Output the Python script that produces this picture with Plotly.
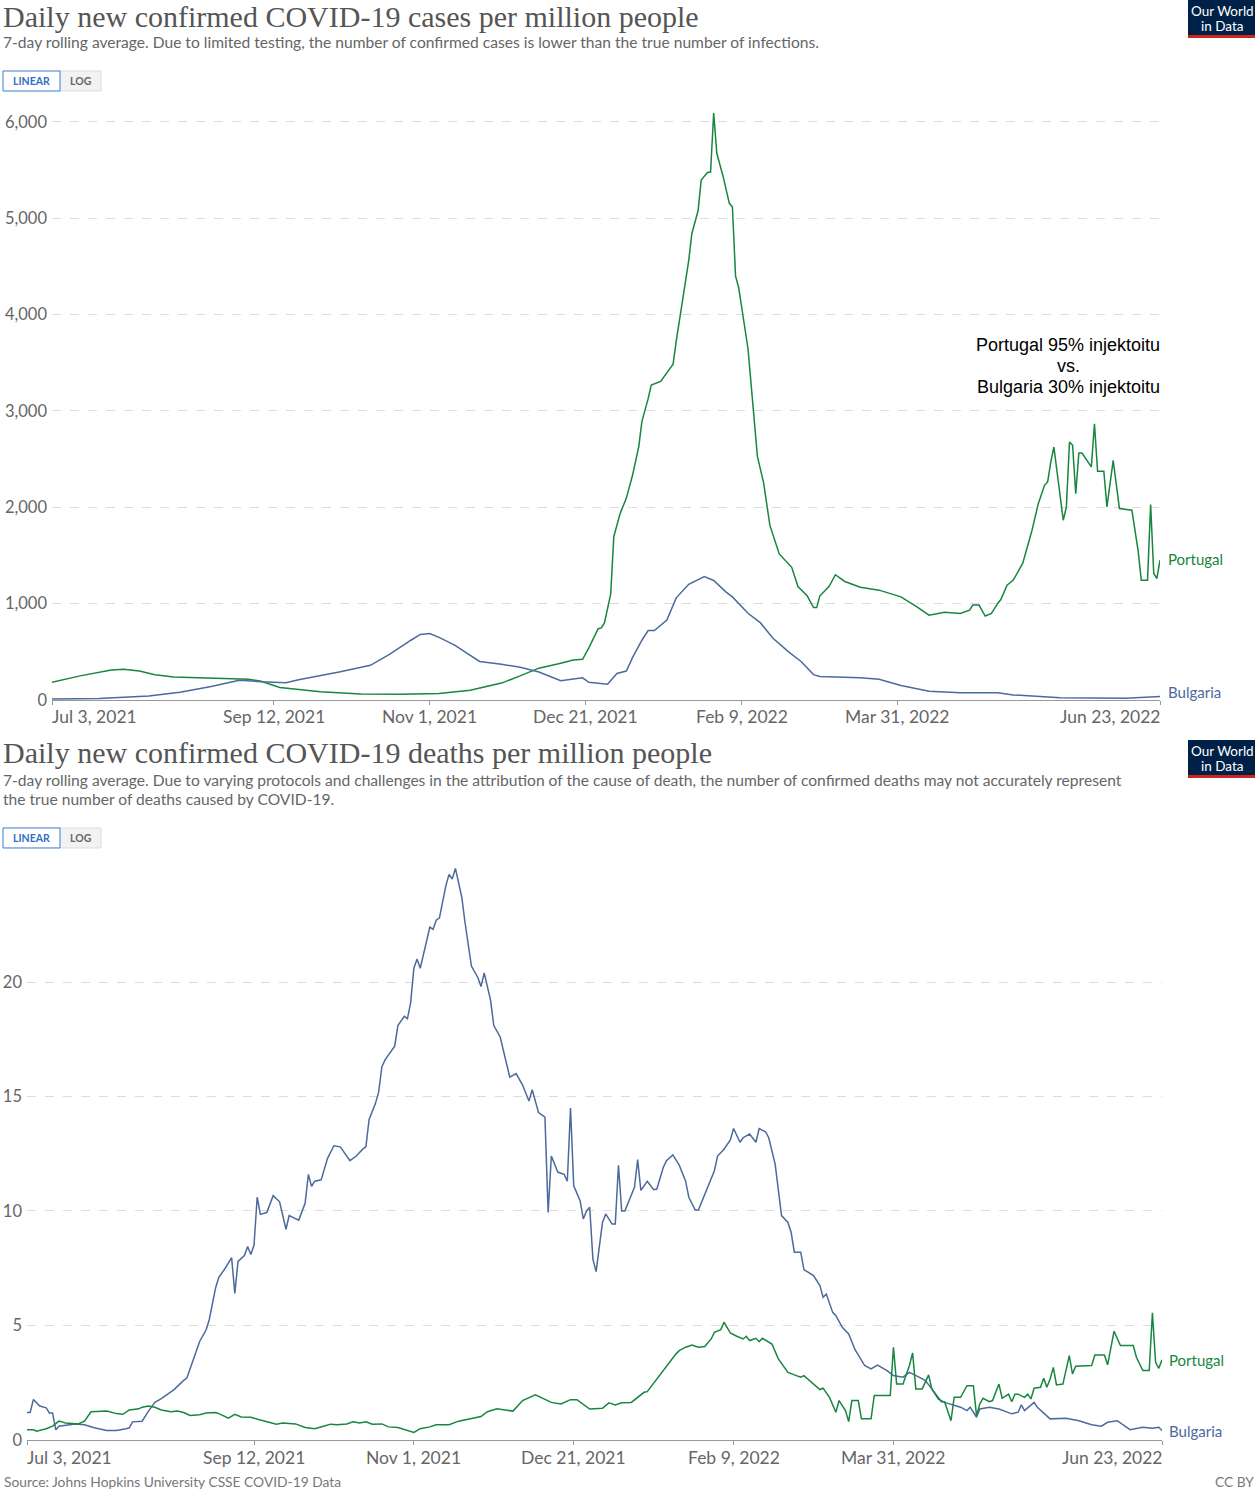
import pandas as pd
import plotly.graph_objects as go

START = pd.Timestamp("2021-07-03")

# ---------------- DATA (day offset from Jul 3, 2021, value) ----------------
cases_pt_days = [0, 9, 19, 23, 28, 33, 39, 47, 57, 63, 67, 73, 86, 99, 112, 124, 134, 144, 150, 156,
                 163, 167, 170, 172, 175, 176, 177, 179, 180, 182, 184, 186, 188, 189, 191, 192, 195, 197,
                 199, 200, 202, 204, 205, 207, 208, 210, 211, 212, 213, 215, 217, 218, 219, 220, 223, 225,
                 226, 228, 230, 233, 237, 239, 242, 244, 245, 246, 249, 251, 254, 259, 265, 272, 277, 281,
                 286, 291, 294, 295, 297, 299, 301, 303, 304, 306, 308, 311, 314, 316, 318, 319, 320, 321,
                 324, 325, 326, 327, 328, 329, 330, 333, 334, 335, 337, 338, 340, 342, 346, 348, 349, 351,
                 352, 353, 354, 355]
cases_pt_vals = [185, 250, 310, 320, 300, 262, 238, 230, 225, 215, 195, 130, 85, 62, 60, 68, 100, 175, 250, 330,
                 382, 414, 422, 541, 740, 748, 800, 1098, 1695, 1934, 2093, 2332, 2631, 2889, 3128, 3268, 3307, 3399,
                 3486, 3725, 4123, 4561, 4840, 5078, 5397, 5476, 5480, 6093, 5675, 5437, 5158, 5118, 4402, 4282, 3646, 2889,
                 2531, 2253, 1815, 1516, 1377, 1178, 1079, 959, 959, 1079, 1180, 1300, 1230, 1170, 1140, 1070, 970, 880,
                 910, 898, 933, 985, 985, 871, 898, 1002, 1043, 1192, 1244, 1417, 1762, 2038, 2228, 2263, 2470, 2626,
                 1866, 2004, 2678, 2643, 2142, 2564, 2564, 2419, 2868, 2374, 2374, 2004, 2488, 1987, 1969, 1548, 1244, 1244,
                 2028, 1313, 1261, 1451]

cases_bg_days = [0, 15, 31, 41, 51, 60, 67, 75, 79, 92, 102, 108, 115, 118, 121, 124, 129, 134, 137, 144,
                 150, 156, 161, 163, 170, 172, 178, 181, 184, 186, 189, 191, 193, 197, 200, 204, 209, 212,
                 216, 218, 223, 227, 231, 236, 240, 244, 246, 253, 259, 265, 272, 281, 291, 303, 308, 323,
                 344, 355]
cases_bg_vals = [10, 15, 40, 80, 140, 205, 190, 180, 210, 290, 360, 470, 620, 680, 690, 650, 570, 460, 400, 370,
                 340, 290, 230, 200, 230, 183, 163, 275, 300, 440, 620, 720, 720, 830, 1060, 1200, 1280, 1240,
                 1120, 1070, 900, 800, 640, 500, 400, 263, 243, 240, 230, 215, 150, 90, 75, 76, 52, 24,
                 17, 35]

deaths_bg_days = [0, 1, 2, 3, 4, 6, 7, 8, 9, 10, 15, 18, 21, 25, 28, 31, 32, 33, 36, 38, 40, 42, 46, 49, 50,
                  52, 54, 56, 57, 59, 60, 62, 64, 65, 66, 68, 69, 70, 71, 72, 73, 75, 76, 77, 79, 81, 82, 85,
                  87, 88, 89, 90, 92, 94, 96, 98, 101, 103, 105, 106, 107, 109, 110, 111, 112, 113, 115, 116,
                  118, 119, 120, 121, 122, 123, 125, 126, 127, 128, 129, 131, 132, 133, 134, 136, 137, 139,
                  141, 142, 143, 145, 146, 148, 151, 153, 155, 157, 158, 160, 162, 163, 164, 166, 168, 169,
                  170, 171, 173, 174, 175, 176, 177, 178, 180, 181, 183, 184, 185, 186, 187, 189, 190, 191,
                  192, 194, 196, 197, 199, 200, 202, 204, 206, 207, 209, 210, 212, 215, 216, 218, 220, 221,
                  223, 224, 226, 228, 229, 231, 232, 234, 236, 238, 239, 240, 242, 243, 246, 248, 249, 250,
                  252, 253, 255, 257, 259, 262, 264, 266, 269, 271, 274, 276, 279, 281, 283, 285, 287, 290,
                  292, 294, 295, 297, 298, 301, 304, 308, 310, 311, 312, 315, 316, 320, 325, 329, 333, 336,
                  338, 341, 343, 345, 349, 352, 354, 355]
deaths_bg_vals = [1.2, 1.2, 1.77, 1.64, 1.48, 1.4, 1.18, 1.18, 0.44, 0.6, 0.7, 0.66, 0.53, 0.41, 0.41, 0.49, 0.53,
                  0.79, 0.82, 1.26, 1.64, 1.8, 2.2, 2.6, 2.7, 3.5, 4.3, 4.8, 5.25, 6.65, 7.1, 7.5, 7.96, 6.4,
                  7.8, 8.05, 8.45, 8.1, 8.5, 10.6, 9.85, 9.93, 10.26, 10.67, 10.4, 9.2, 9.8, 9.6, 10.35, 11.6,
                  11.08, 11.3, 11.36, 12.3, 12.85, 12.8, 12.2, 12.4, 12.7, 12.8, 14.0, 14.7, 15.2, 16.3, 16.6,
                  16.8, 17.2, 18.1, 18.5, 18.4, 19.1, 20.6, 21.0, 20.6, 21.9, 22.4, 22.3, 22.7, 22.8, 24.2,
                  24.7, 24.5, 24.96, 23.7, 22.6, 20.7, 20.2, 19.8, 20.4, 19.2, 18.1, 17.6, 15.85, 16.0, 15.5,
                  14.8, 15.3, 14.3, 14.1, 9.93, 12.4, 11.7, 11.6, 11.3, 14.5, 11.1, 10.45, 9.65, 10.0, 10.16,
                  7.9, 7.35, 9.5, 9.87, 9.43, 9.43, 12.0, 10.0, 10.0, 10.74, 11.03, 12.24, 10.9, 11.3, 10.93,
                  10.96, 11.9, 12.2, 12.45, 12.0, 11.3, 10.6, 10.04, 10.04, 10.74, 11.76, 12.4, 12.7, 13.1,
                  13.6, 13.0, 13.2, 13.36, 13.0, 13.6, 13.46, 13.2, 12.05, 9.8, 9.5, 9.07, 8.2, 8.2, 7.44,
                  7.18, 6.74, 6.23, 6.37, 5.57, 5.43, 4.92, 4.63, 3.94, 3.25, 3.1, 3.27, 3.03, 2.81, 2.74,
                  2.95, 2.74, 2.59, 2.23, 1.79, 1.64, 1.5, 1.43, 1.28, 1.43, 0.99, 1.35, 1.43, 1.35, 1.14,
                  1.21, 1.53, 1.28, 1.64, 1.43, 0.92, 0.95, 0.84, 0.66, 0.6, 0.77, 0.84, 0.66, 0.45, 0.55,
                  0.51, 0.55, 0.41]

deaths_pt_days = [0, 2, 3, 6, 8, 10, 11, 12, 16, 18, 20, 22, 25, 28, 30, 32, 35, 36, 38, 40, 42, 45, 47, 49,
                  51, 54, 56, 59, 60, 63, 65, 67, 70, 73, 75, 78, 80, 84, 87, 90, 93, 95, 97, 100, 102, 104,
                  106, 108, 111, 113, 116, 118, 121, 123, 126, 128, 132, 135, 139, 142, 144, 147, 152, 155,
                  159, 162, 164, 167, 168, 170, 172, 174, 176, 180, 182, 184, 186, 189, 191, 193, 194, 197,
                  200, 203, 204, 206, 208, 210, 212, 214, 215, 217, 218, 220, 222, 224, 225, 226, 228, 229,
                  230, 232, 233, 235, 238, 240, 242, 243, 246, 248, 249, 251, 253, 254, 256, 257, 258, 260,
                  261, 264, 265, 270, 271, 272, 274, 276, 277, 278, 280, 282, 283, 286, 287, 289, 290, 292,
                  294, 296, 297, 298, 299, 301, 302, 304, 305, 307, 308, 309, 310, 312, 313, 314, 315, 317,
                  318, 319, 320, 321, 322, 324, 326, 327, 328, 333, 334, 337, 338, 340, 342, 346, 347, 349,
                  351, 352, 353, 354, 355]
deaths_pt_vals = [0.44, 0.44, 0.38, 0.49, 0.6, 0.82, 0.79, 0.74, 0.7, 0.82, 1.23, 1.23, 1.26, 1.15, 1.12, 1.31,
                  1.36, 1.43, 1.48, 1.43, 1.31, 1.23, 1.26, 1.2, 1.07, 1.1, 1.18, 1.2, 1.15, 0.95, 1.12, 1.0,
                  0.99, 0.87, 0.79, 0.69, 0.74, 0.7, 0.54, 0.49, 0.61, 0.69, 0.66, 0.7, 0.79, 0.74, 0.79, 0.69,
                  0.7, 0.57, 0.54, 0.46, 0.33, 0.49, 0.57, 0.66, 0.66, 0.82, 0.94, 1.02, 1.23, 1.36, 1.26, 1.72,
                  1.97, 1.76, 1.64, 1.57, 1.64, 1.76, 1.76, 1.57, 1.35, 1.38, 1.62, 1.53, 1.62, 1.64, 1.86, 2.08,
                  2.11, 2.66, 3.25, 3.76, 3.9, 4.05, 4.15, 4.05, 4.08, 4.41, 4.7, 4.82, 5.14, 4.67, 4.53, 4.41,
                  4.53, 4.34, 4.44, 4.29, 4.44, 4.26, 4.19, 3.54, 2.95, 2.84, 2.74, 2.81, 2.45, 2.2, 2.26, 1.86,
                  1.21, 1.72, 1.28, 0.8, 1.72, 1.72, 0.92, 0.92, 1.94, 1.94, 4.05, 2.44, 2.44, 3.25, 3.8, 2.23,
                  2.23, 2.84, 2.23, 1.67, 1.67, 0.84, 1.86, 1.86, 2.37, 2.37, 1.06, 1.57, 1.82, 1.67, 1.72, 2.44,
                  1.82, 2.0, 1.67, 2.0, 2.0, 1.86, 2.0, 1.79, 2.26, 2.3, 2.69, 2.3, 2.66, 3.17, 2.4, 2.44, 3.68,
                  2.88, 3.22, 3.25, 3.71, 3.71, 3.28, 4.75, 4.12, 4.12, 3.61, 3.03, 3.03, 5.55, 3.39, 3.13, 3.5]

tick_dates = ["2021-07-03", "2021-09-12", "2021-11-01", "2021-12-21", "2022-02-09", "2022-03-31", "2022-06-23"]
tick_labels = ["Jul 3, 2021", "Sep 12, 2021", "Nov 1, 2021", "Dec 21, 2021", "Feb 9, 2022", "Mar 31, 2022", "Jun 23, 2022"]
cases_yticks = [0, 1000, 2000, 3000, 4000, 5000, 6000]
deaths_yticks = [0, 5, 10, 15, 20]
note_lines = ["Portugal 95% injektoitu", "vs.", "Bulgaria 30% injektoitu"]

PT_COLOR = "#18863f"
BG_COLOR = "#4c6a9c"
W, H = 1255, 1500
VSCALE = 1510 / 1500  # the photographed page comes out slightly squeezed vertically


def to_dates(days):
    return [START + pd.Timedelta(days=int(d)) for d in days]


def px(x):
    return x / W


def py(y, raw=False):
    return 1 - (y if raw else y * VSCALE) / H


fig = go.Figure()
fig.add_trace(go.Scatter(x=to_dates(cases_pt_days), y=cases_pt_vals, mode="lines",
                         line=dict(color=PT_COLOR, width=1.5), xaxis="x", yaxis="y", name="Portugal"))
fig.add_trace(go.Scatter(x=to_dates(cases_bg_days), y=cases_bg_vals, mode="lines",
                         line=dict(color=BG_COLOR, width=1.5), xaxis="x", yaxis="y", name="Bulgaria"))
fig.add_trace(go.Scatter(x=to_dates(deaths_bg_days), y=deaths_bg_vals, mode="lines",
                         line=dict(color=BG_COLOR, width=1.5), xaxis="x2", yaxis="y2", name="Bulgaria"))
fig.add_trace(go.Scatter(x=to_dates(deaths_pt_days), y=deaths_pt_vals, mode="lines",
                         line=dict(color=PT_COLOR, width=1.5), xaxis="x2", yaxis="y2", name="Portugal"))

xrange = [tick_dates[0], tick_dates[-1]]
axis_common = dict(type="date", range=xrange, showgrid=False, showline=True, linecolor="#999",
                   linewidth=1, ticks="outside", ticklen=4, tickcolor="#999",
                   tickvals=tick_dates, showticklabels=False, zeroline=False, fixedrange=True)

fig.update_layout(
    width=W, height=H, margin=dict(l=0, r=0, t=0, b=0),
    paper_bgcolor="white", plot_bgcolor="white", showlegend=False,
    font=dict(family="Lato", color="#666"),
    xaxis=dict(domain=[px(52), px(1160)], anchor="y", **axis_common),
    yaxis=dict(domain=[py(700), py(102.7)], range=[0, 6200], anchor="x", tickvals=cases_yticks,
               tickformat=",", showgrid=True, gridcolor="#ddd", griddash="dash", zeroline=False,
               showline=False, ticks="", tickfont=dict(size=16.5, color="#666", family="Lato"),
               ticklabelstandoff=4, fixedrange=True),
    xaxis2=dict(domain=[px(27), px(1162)], anchor="y2", **axis_common),
    yaxis2=dict(domain=[py(1440), py(863)], range=[0, 25.2], anchor="x2", tickvals=deaths_yticks,
                showgrid=True, gridcolor="#ddd", griddash="dash", zeroline=False,
                showline=False, ticks="", tickfont=dict(size=16.5, color="#666", family="Lato"),
                ticklabelstandoff=4, fixedrange=True),
)

ann = []
shapes = []


def text(x, y, s, size, color="#666", family="Lato", xanchor="left", yanchor="middle", align="left", raw=False):
    ann.append(dict(x=px(x), y=py(y, raw), xref="paper", yref="paper", text=s,
                    showarrow=False, xanchor=xanchor, yanchor=yanchor, align=align,
                    font=dict(size=size, color=color, family=family)))


# Titles and subtitles
text(1, 17, "Daily new confirmed COVID-19 cases per million people", 30, "#555", "Liberation Serif", raw=True)
text(1, 42, "7-day rolling average. Due to limited testing, the number of confirmed cases is lower than the true number of infections.", 15.6)
text(1, 753, "Daily new confirmed COVID-19 deaths per million people", 30, "#555", "Liberation Serif")
text(1, 780, "7-day rolling average. Due to varying protocols and challenges in the attribution of the cause of death, the number of confirmed deaths may not accurately represent", 15.6)
text(1, 799, "the true number of deaths caused by COVID-19.", 15.6)


def buttons(yc):
    y0, y1 = yc - 10, yc + 10
    shapes.append(dict(type="rect", xref="paper", yref="paper", x0=px(58), x1=px(101), y0=py(y1), y1=py(y0),
                       fillcolor="#f2f2f2", line=dict(color="#ddd", width=1)))
    shapes.append(dict(type="rect", xref="paper", yref="paper", x0=px(3), x1=px(60), y0=py(y1), y1=py(y0),
                       fillcolor="white", line=dict(color="#3b7dd8", width=1)))
    text(31.5, yc, "<b>LINEAR</b>", 10.5, "#2f6fc7", xanchor="center")
    text(81, yc, "<b>LOG</b>", 10.5, "#666", xanchor="center")


buttons(81)
buttons(838)


def logo(ytop):
    shapes.append(dict(type="rect", xref="paper", yref="paper", x0=px(1188), x1=px(1255), y0=py(ytop + 35),
                       y1=py(ytop), fillcolor="#002147", line=dict(width=0)))
    shapes.append(dict(type="rect", xref="paper", yref="paper", x0=px(1188), x1=px(1255), y0=py(ytop + 38),
                       y1=py(ytop + 35), fillcolor="#ce261e", line=dict(width=0)))
    text(1222, ytop + 11, "Our World", 13.5, "white", xanchor="center")
    text(1222, ytop + 26, "in Data", 13.5, "white", xanchor="center")


logo(0)
logo(740)

# X tick labels
for i, (d, lab) in enumerate(zip(tick_dates, tick_labels)):
    if i == 0:
        xa, shift = "left", -2
    elif i == len(tick_dates) - 1:
        xa, shift = "right", 3
    else:
        xa, shift = "center", 0
    ann.append(dict(x=d, y=py(717), xref="x", yref="paper", text=lab, showarrow=False, xanchor=xa,
                    xshift=shift, yanchor="middle", font=dict(size=17.5, color="#666", family="Lato")))
    ann.append(dict(x=d, y=py(1458), xref="x2", yref="paper", text=lab, showarrow=False, xanchor=xa,
                    xshift=shift, yanchor="middle", font=dict(size=17.5, color="#666", family="Lato")))

# Series labels
text(1166, 559, "Portugal", 15, PT_COLOR)
text(1166, 692, "Bulgaria", 15, BG_COLOR)
text(1167, 1360, "Portugal", 15, PT_COLOR)
text(1167, 1431, "Bulgaria", 15, BG_COLOR)

# Custom annotation
for i, line in enumerate(note_lines):
    text(1068, 345 + 21 * i, line, 18, "black", "Liberation Sans", xanchor="center")

# Footer (kept inside the figure)
text(2, 1491, "Source: Johns Hopkins University CSSE COVID-19 Data", 13.8, "#777", raw=True)
text(1256, 1491, "CC BY", 13.8, "#777", xanchor="right", raw=True)

fig.update_layout(annotations=ann, shapes=shapes)
fig.write_html("out.html")
